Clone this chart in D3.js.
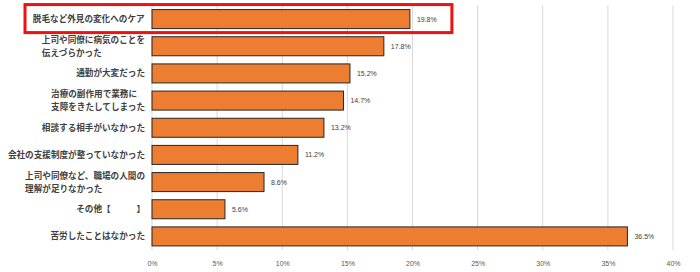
<!DOCTYPE html>
<html>
<head>
<meta charset="utf-8">
<script src="https://cdn.jsdelivr.net/npm/d3@7"></script>
<style>
  body { margin: 0; background: #fff; }
  .axis text { font-family: "Liberation Sans", "DejaVu Sans", sans-serif; font-size: 7px; fill: #595959; }
  .cat { font-family: "Noto Sans CJK JP", sans-serif; font-size: 8.6px; font-weight: bold; fill: #404040; }
  .val { font-family: "Liberation Sans", "DejaVu Sans", sans-serif; font-size: 7px; fill: #404040; }
</style>
</head>
<body>
<div id="chart"></div>
<script>
// categories (line breaks kept as in the picture)
const categories = [
  ["脱毛など外見の変化へのケア"],
  ["上司や同僚に病気のことを", "伝えづらかった"],
  ["通勤が大変だった"],
  ["治療の副作用で業務に", "支障をきたしてしまった"],
  ["相談する相手がいなかった"],
  ["会社の支援制度が整っていなかった"],
  ["上司や同僚など、職場の人間の", "理解が足りなかった"],
  ["その他【　　　】"],
  ["苦労したことはなかった"]
];
const values = [19.8, 17.8, 15.2, 14.7, 13.2, 11.2, 8.6, 5.6, 36.5];
const xTicks = [0, 5, 10, 15, 20, 25, 30, 35, 40];

const width = 700, height = 272;
const margin = { top: 5.5, right: 27, bottom: 22, left: 152 };

const svg = d3.select("#chart").append("svg")
  .attr("width", width)
  .attr("height", height);

const x = d3.scaleLinear().domain([0, 40]).range([margin.left, width - margin.right]);
const y = d3.scaleBand()
  .domain(d3.range(categories.length))
  .range([margin.top, height - margin.bottom])
  .paddingInner(0.3)
  .paddingOuter(0.15);

// grid lines
svg.append("g")
  .selectAll("line")
  .data(xTicks)
  .join("line")
  .attr("x1", d => x(d)).attr("x2", d => x(d))
  .attr("y1", margin.top).attr("y2", height - margin.bottom)
  .attr("stroke", "#d9d9d9")
  .attr("stroke-width", 1);

// x axis labels
const axis = svg.append("g")
  .attr("class", "axis")
  .attr("transform", `translate(0,${height - margin.bottom + 8})`)
  .call(d3.axisBottom(x).tickValues(xTicks).tickFormat(d => d + "%").tickSize(0));
axis.select(".domain").remove();

// bars
svg.append("g")
  .selectAll("rect")
  .data(values)
  .join("rect")
  .attr("x", x(0))
  .attr("y", (d, i) => y(i))
  .attr("width", d => x(d) - x(0))
  .attr("height", y.bandwidth())
  .attr("fill", "#ed7d31")
  .attr("stroke", "#262626")
  .attr("stroke-width", 1);

// value labels
svg.append("g")
  .selectAll("text")
  .data(values)
  .join("text")
  .attr("class", "val")
  .attr("x", d => x(d) + 7)
  .attr("y", (d, i) => y(i) + y.bandwidth() / 2)
  .attr("dy", "0.35em")
  .text(d => d.toFixed(1) + "%");

// category labels: block right-aligned, lines left-aligned
const labelRight = margin.left - 7;
const lineH = 13;
const cats = svg.append("g")
  .selectAll("text")
  .data(categories)
  .join("text")
  .attr("class", "cat");
cats.each(function (lines, i) {
  const t = d3.select(this);
  const cy = y(i) + y.bandwidth() / 2;
  lines.forEach((ln, j) => {
    t.append("tspan")
      .attr("x", 0)
      .attr("y", cy + (j - (lines.length - 1) / 2) * lineH)
      .attr("dy", "0.35em")
      .text(ln);
  });
  const w = this.getBBox().width;
  t.selectAll("tspan").attr("x", labelRight - w);
});

// red highlight box around the first item
svg.append("rect")
  .attr("x", 25)
  .attr("y", y(0) - 5)
  .attr("width", x(values[0]) + 42 - 25)
  .attr("height", y.bandwidth() + 9)
  .attr("fill", "none")
  .attr("stroke", "#ee1111")
  .attr("stroke-width", 3);
</script>
</body>
</html>
